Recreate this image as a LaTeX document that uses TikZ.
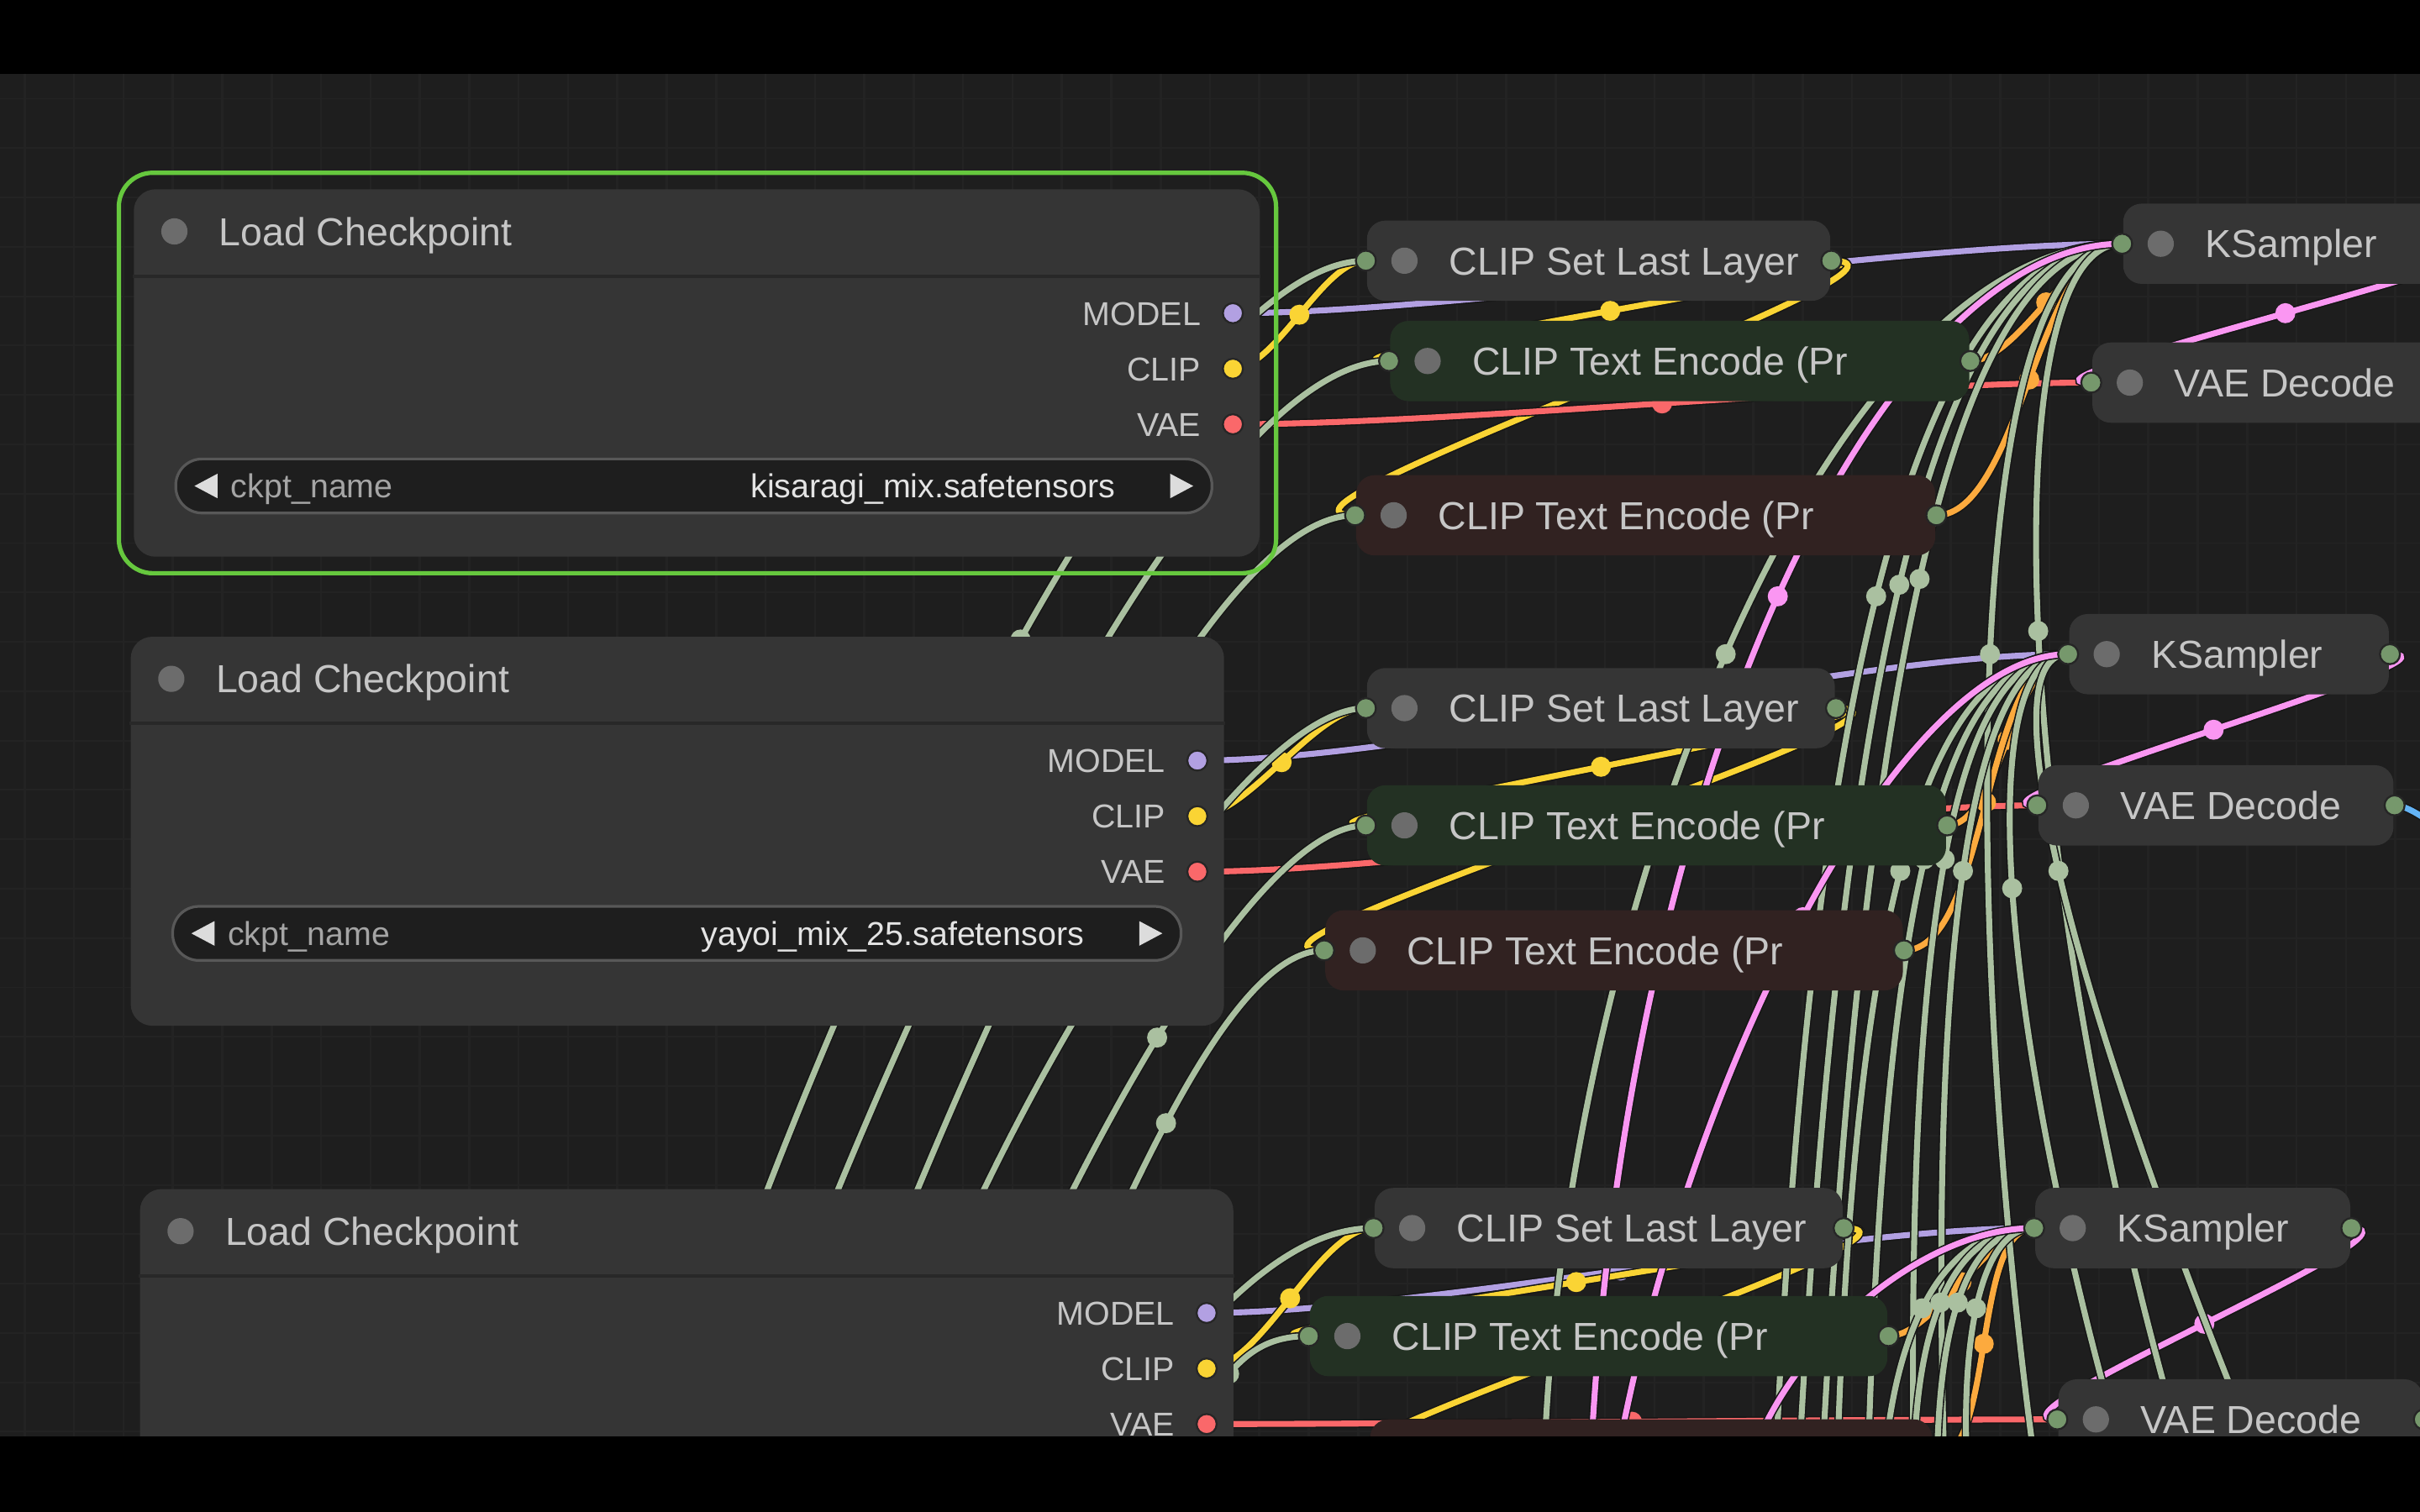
\documentclass[tikz,border=0pt]{standalone}
\usepackage{fontspec}
\setmainfont{Liberation Sans}
\usetikzlibrary{calc,positioning}

\definecolor{bgcol}{RGB}{30,30,30}
\definecolor{gridcol}{RGB}{35,35,35}
\definecolor{nodecol}{RGB}{53,53,53}
\definecolor{poscol}{RGB}{35,49,35}
\definecolor{negcol}{RGB}{49,34,33}
\definecolor{sepcol}{RGB}{40,40,40}
\definecolor{selcol}{RGB}{102,200,62}
\definecolor{widgetcol}{RGB}{30,30,30}
\definecolor{widgetedge}{RGB}{88,88,88}
\definecolor{dotcol}{RGB}{108,108,108}
\definecolor{titlecol}{RGB}{198,198,198}
\definecolor{namecol}{RGB}{165,165,165}
\definecolor{valcol}{RGB}{228,228,228}
\definecolor{arrowcol}{RGB}{220,220,220}
\definecolor{slotcol}{RGB}{118,152,108}
\definecolor{linkedge}{RGB}{22,22,22}
\definecolor{modelcol}{RGB}{178,160,226}
\definecolor{clipcol}{RGB}{250,212,52}
\definecolor{vaecol}{RGB}{250,104,106}
\definecolor{condcol}{RGB}{252,170,62}
\definecolor{latentcol}{RGB}{250,150,242}
\definecolor{palecol}{RGB}{170,192,160}
\definecolor{imagecol}{RGB}{100,180,246}

\pgfdeclarelayer{back}
\pgfdeclarelayer{links}
\pgfdeclarelayer{front}
\pgfsetlayers{back,links,main,front}

\tikzset{
    ckptbox/.style={fill=nodecol, rounded corners=0.14cm, inner sep=0pt, anchor=north west},
    pillbox/.style={rounded corners=0.12cm, minimum height=0.52cm, inner sep=0pt, anchor=west},
    slotdot/.style={circle, fill=#1, draw=black!85, line width=0.35pt, inner sep=0pt, minimum size=0.13cm},
    greydot/.style={circle, fill=dotcol, inner sep=0pt, minimum size=0.17cm},
    titletext/.style={text=titlecol, font=\fontsize{7.2}{8}\selectfont, text height=5.2pt, text depth=0pt, inner sep=0pt, anchor=west},
    slottext/.style={text=titlecol, font=\fontsize{6.1}{7}\selectfont, text height=4.4pt, text depth=0pt, inner sep=0pt},
    widget/.style={fill=widgetcol, draw=widgetedge, line width=0.5pt, rounded corners=0.17cm, minimum height=0.35cm, inner sep=0pt, anchor=west},
    link/.style={draw=linkedge, line width=0.25pt, double=#1, double distance=1.1pt, out=0, in=180, looseness=0.64},
    midmark/.style={circle, fill=#1, inner sep=0pt, minimum size=0.13cm, midway}
}

\begin{document}
\begin{tikzpicture}[x=0.01cm,y=-0.01cm]
\useasboundingbox (0,0) rectangle (1568,980);

\begin{pgfonlayer}{back}
\fill[black] (0,0) rectangle (1568,980);
\fill[bgcol] (0,48) rectangle (1568,931);
\foreach \x in {16,48,...,1568}
    \draw[gridcol, line width=0.4pt] (\x,48) -- (\x,931);
\foreach \y in {64,96,...,931}
    \draw[gridcol, line width=0.3pt] (0,\y) -- (1568,\y);
\end{pgfonlayer}

% Load Checkpoint
\foreach \g/\x/\y/\w/\h in {A/86/122/7.29/2.38, B/84/412/7.08/2.52, C/90/770/7.08/2.6}
{
    \node[ckptbox, minimum width=\w cm, minimum height=\h cm] (ckpt\g) at (\x,\y) {};
    \node[greydot] (dotCkpt\g) at ($(ckpt\g.north west)+(27,28)$) {};
    \node[titletext, right=0.19cm of dotCkpt\g] (ttlCkpt\g) {Load Checkpoint};
    \draw[sepcol, line width=0.6pt] ($(ckpt\g.north west)+(0,57)$) -- ($(ckpt\g.north east)+(0,57)$);
    %輸出
    \node[slotdot=modelcol] (mdl\g) at ($(ckpt\g.north east)+(-18,81)$) {};
    \node[slotdot=clipcol] (clp\g) at ($(ckpt\g.north east)+(-18,117)$) {};
    \node[slotdot=vaecol] (vae\g) at ($(ckpt\g.north east)+(-18,153)$) {};
    \node[slottext, left=0.13cm of mdl\g] (lblMdl\g) {MODEL};
    \node[slottext, left=0.13cm of clp\g] (lblClp\g) {CLIP};
    \node[slottext, left=0.13cm of vae\g] (lblVae\g) {VAE};
}
\draw[selcol, line width=0.8pt, rounded corners=0.22cm] ($(ckptA.north west)+(-9,-10)$) rectangle ($(ckptA.south east)+(10,10)$);

%ckpt_name
\foreach \g/\ww/\val in {A/6.71/kisaragi\_mix.safetensors, B/6.53/yayoi\_mix\_25.safetensors}
{
    \node[widget, minimum width=\ww cm] (wgt\g) at ($(ckpt\g.north west)+(27,193)$) {};
    \fill[arrowcol] ($(wgt\g.west)+(13,0)$) -- ++(15,-8) -- ++(0,16) -- cycle;
    \fill[arrowcol] ($(wgt\g.east)+(-13,0)$) -- ++(-15,-8) -- ++(0,16) -- cycle;
    \node[slottext, anchor=west, text=namecol] (wgtName\g) at ($(wgt\g.west)+(36,0)$) {ckpt\_name};
    \node[slottext, anchor=east, text=valcol] (wgtVal\g) at ($(wgt\g.east)+(-63,0)$) {\val};
}

% 收合的節點
\foreach \nm/\x/\y/\w/\fc/\txt in {
    SetA/885/169/3.0/nodecol/CLIP Set Last Layer,
    PosA/900/234/3.75/poscol/CLIP Text Encode (Pr,
    NegA/878/334/3.75/negcol/CLIP Text Encode (Pr,
    KsA/1375/158/2.3/nodecol/KSampler,
    VdA/1355/248/2.3/nodecol/VAE Decode,
    SetB/885/459/3.03/nodecol/CLIP Set Last Layer,
    PosB/885/535/3.75/poscol/CLIP Text Encode (Pr,
    NegB/858/616/3.74/negcol/CLIP Text Encode (Pr,
    KsB/1340/424/2.07/nodecol/KSampler,
    VdB/1320/522/2.3/nodecol/VAE Decode,
    SetC/890/796/3.03/nodecol/CLIP Set Last Layer,
    PosC/848/866/3.74/poscol/CLIP Text Encode (Pr,
    NegC/887/946/3.64/negcol/CLIP Text Encode (Pr,
    KsC/1318/796/2.04/nodecol/KSampler,
    VdC/1333/920/2.36/nodecol/VAE Decode}
{
    \node[pillbox, fill=\fc, minimum width=\w cm] (\nm) at (\x,\y) {};
    \node[greydot] (dot\nm) at ($(\nm.west)+(25,0)$) {};
    \node[titletext, right=0.19cm of dot\nm] (ttl\nm) {\txt};
    \node[slotdot=slotcol] (in\nm) at (\nm.west) {};
    \node[slotdot=slotcol] (out\nm) at (\nm.east) {};
}
\coordinate (imgEnd) at (1600,545);

\begin{pgfonlayer}{links}
% 連線
\foreach \g in {A,B,C}
{
    \draw[link=modelcol] (mdl\g.center) to node[midmark=modelcol]{} (inKs\g.center);
    \draw[link=clipcol] (clp\g.center) to node[midmark=clipcol]{} (inSet\g.center);
    \draw[link=clipcol] (outSet\g.center) to node[midmark=clipcol]{} (inPos\g.center);
    \draw[link=clipcol] (outSet\g.center) to node[midmark=clipcol]{} (inNeg\g.center);
    \draw[link=vaecol] (vae\g.center) to node[midmark=vaecol]{} (inVd\g.center);
    \draw[link=condcol] (outPos\g.center) to node[midmark=condcol]{} (inKs\g.center);
    \draw[link=condcol] (outNeg\g.center) to node[midmark=condcol]{} (inKs\g.center);
    \draw[link=latentcol] (outKs\g.center) to node[midmark=latentcol]{} (inVd\g.center);
}
\draw[link=imagecol] (outVdB.center) to (imgEnd);

% 從下方來的連線
\foreach \sx/\ax/\ay/\dd/\dst/\col in {
    430/560/560/120/inSetA/palecol,
    470/600/600/118/inPosA/palecol,
    520/640/640/96/inNegA/palecol,
    560/640/720/82/inSetB/palecol,
    610/690/760/74/inPosB/palecol,
    650/720/800/66/inNegB/palecol,
    700/760/880/68/inSetC/palecol,
    750/790/900/47/inPosC/palecol,
    1000/1010/600/195/inKsA/palecol,
    1150/1170/500/145/inKsA/palecol,
    1165/1190/480/130/inKsA/palecol,
    1180/1205/470/115/inKsA/palecol,
    1320/1270/600/105/inKsA/palecol,
    1420/1300/560/85/inKsA/palecol,
    1030/1050/500/155/inKsA/latentcol,
    1190/1200/620/100/inKsB/palecol,
    1210/1220/600/85/inKsB/palecol,
    1240/1235/600/75/inKsB/palecol,
    1260/1250/620/65/inKsB/palecol,
    1380/1290/650/60/inKsB/palecol,
    1470/1330/620/50/inKsB/palecol,
    1045/1090/700/110/inKsB/latentcol,
    1220/1225/880/68/inKsC/palecol,
    1240/1240/870/58/inKsC/palecol,
    1255/1255/870/48/inKsC/palecol,
    1275/1270/880/38/inKsC/palecol,
    1130/1150/880/78/inKsC/latentcol}
    \draw[link=\col] (\sx,960) .. controls (\ax,\ay) and +(-\dd,0) .. (\dst.center) node[midmark=\col]{};
\end{pgfonlayer}

\begin{pgfonlayer}{front}
\fill[black] (0,0) rectangle (1568,48);
\fill[black] (0,931) rectangle (1568,980);
\end{pgfonlayer}

\end{tikzpicture}
\end{document}
